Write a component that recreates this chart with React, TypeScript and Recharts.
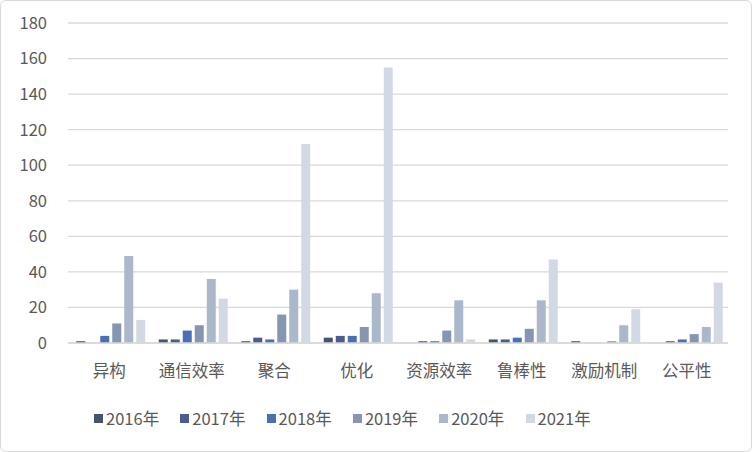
import React from 'react';
import { BarChart, Bar, XAxis, YAxis, CartesianGrid, Legend } from 'recharts';

const categories = ['异构', '通信效率', '聚合', '优化', '资源效率', '鲁棒性', '激励机制', '公平性'];
const y2016 = [1, 2, 1, 3, 0, 2, 1, 0];
const y2017 = [0, 2, 3, 4, 1, 2, 0, 1];
const y2018 = [4, 7, 2, 4, 1, 3, 0, 2];
const y2019 = [11, 10, 16, 9, 7, 8, 1, 5];
const y2020 = [49, 36, 30, 28, 24, 24, 10, 9];
const y2021 = [13, 25, 112, 155, 2, 47, 19, 34];
const yTicks = [0, 20, 40, 60, 80, 100, 120, 140, 160, 180];

const seriesNames = ['2016年', '2017年', '2018年', '2019年', '2020年', '2021年'];
const seriesColors = ['#44546A', '#4A5D8E', '#4A70B4', '#8496B2', '#ABB7CA', '#D3D9E4'];
const seriesValues = [y2016, y2017, y2018, y2019, y2020, y2021];

const data = categories.map((c, i) => {
  const row: Record<string, string | number> = { name: c };
  seriesNames.forEach((s, k) => {
    row[s] = seriesValues[k][i];
  });
  return row;
});

const FONT = '"Noto Sans CJK SC", "Noto Sans", sans-serif';

const LegendContent = () => (
  <div style={{ position: 'relative', width: 700, height: 24, fontFamily: FONT }}>
    {seriesNames.map((s, i) => (
      <div
        key={s}
        style={{
          position: 'absolute',
          left: 94 + i * 86.3,
          top: 0,
          display: 'flex',
          alignItems: 'center',
          height: 24,
        }}
      >
        <span style={{ display: 'inline-block', width: 9, height: 9, background: seriesColors[i], marginRight: 3 }} />
        <span style={{ fontSize: 16.5, color: '#595959', lineHeight: '24px' }}>{s}</span>
      </div>
    ))}
  </div>
);

export default function App() {
  return (
    <div style={{ position: 'absolute', left: 0, top: 0, width: 752, height: 452, background: '#fff' }}>
      <div
        style={{
          position: 'absolute',
          left: 0,
          top: 0,
          width: 752,
          height: 452,
          boxSizing: 'border-box',
          border: '1px solid #d9d9d9',
          borderRadius: 6,
        }}
      />
      <BarChart
        width={752}
        height={452}
        data={data}
        margin={{ top: 23, right: 24, left: 0, bottom: 0 }}
        barCategoryGap="10%"
        barGap={3}
        style={{ fontFamily: FONT }}
      >
        <CartesianGrid vertical={false} stroke="#d9d9d9" strokeWidth={1.3} />
        <XAxis
          dataKey="name"
          height={85}
          tickLine={false}
          tickSize={0}
          tickMargin={22}
          axisLine={{ stroke: '#d9d9d9', strokeWidth: 1.3 }}
          tick={{ fill: '#595959', fontSize: 16.5 }}
          interval={0}
        />
        <YAxis
          width={68}
          domain={[0, 180]}
          ticks={yTicks}
          axisLine={false}
          tickLine={false}
          tickSize={0}
          tickMargin={21}
          tick={{ fill: '#595959', fontSize: 16.5 }}
          interval={0}
        />
        <Legend
          content={<LegendContent />}
          wrapperStyle={{ position: 'absolute', left: 0, top: 406, width: 700, height: 24 }}
        />
        {seriesNames.map((s, i) => (
          <Bar key={s} dataKey={s} fill={seriesColors[i]} isAnimationActive={false} />
        ))}
      </BarChart>
    </div>
  );
}
